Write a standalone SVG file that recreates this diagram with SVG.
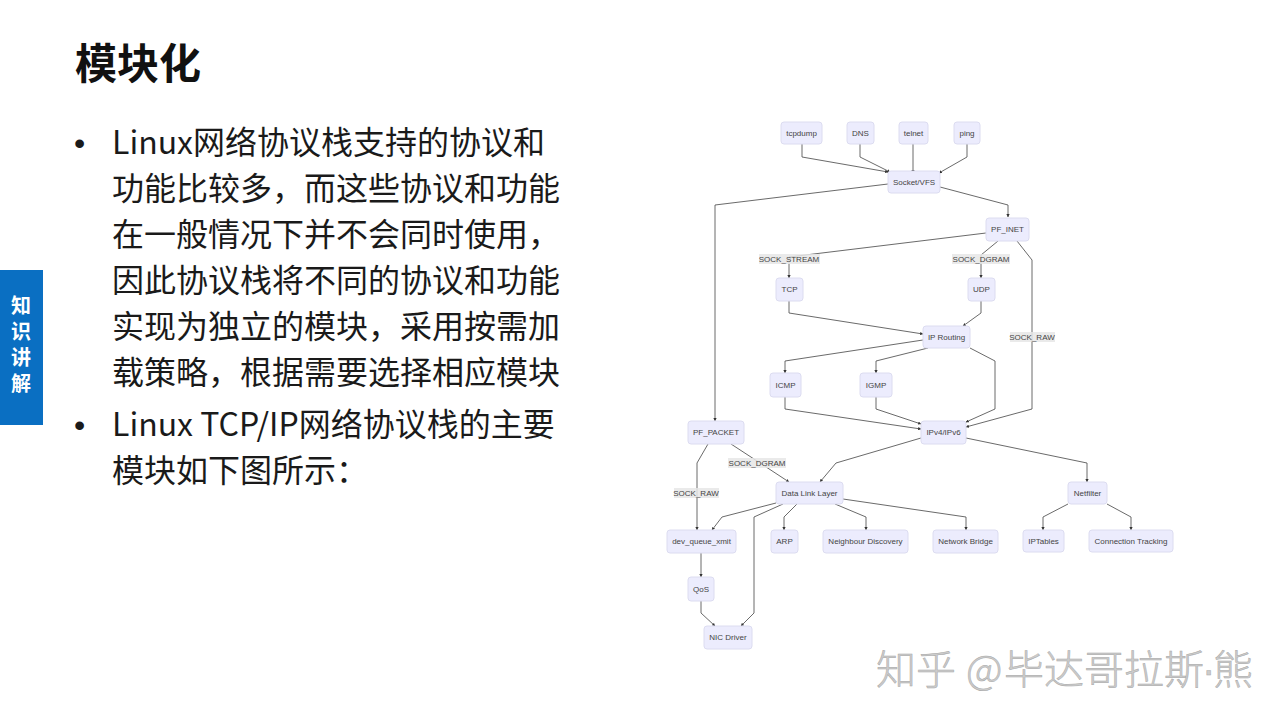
<svg xmlns="http://www.w3.org/2000/svg" width="1280" height="720" viewBox="0 0 1280 720">
<defs>
<marker id="ah" viewBox="0 0 10 10" refX="9" refY="5" markerWidth="4" markerHeight="4" orient="auto">
<path d="M0,0 L10,5 L0,10 z" fill="#333"/>
</marker>
<style>
.n rect{fill:#ececfd;stroke:#dcdcf0;stroke-width:1}
.n text{font-family:"Liberation Sans",Arial,sans-serif;font-size:8px;fill:#444;text-anchor:middle;dominant-baseline:central}
.e path{fill:none;stroke:#444;stroke-width:0.8;marker-end:url(#ah)}
.lb rect{fill:#e6e6e6;opacity:0.85}
.lb text{font-family:"Liberation Sans",Arial,sans-serif;font-size:8px;fill:#444;text-anchor:middle;dominant-baseline:central}
.body{font-family:"Noto Sans CJK SC","Microsoft YaHei",sans-serif;font-size:32px;fill:#1a1a1a}
.bul{font-family:"Liberation Sans",Arial,sans-serif;font-size:32px;fill:#1a1a1a}
.wm{font-family:"Noto Sans CJK SC",sans-serif;font-size:40px;font-weight:300;fill:#cccccc;stroke:#a8a8a8;stroke-width:0.5}
</style>
</defs>
<rect width="1280" height="720" fill="#ffffff"/>

<!-- left slide content -->
<text x="75" y="79" font-family="'Noto Sans CJK SC',sans-serif" font-size="42" font-weight="bold" fill="#111">模块化</text>
<rect x="0" y="270" width="43" height="155" fill="#0a6fc2"/>
<text x="21" y="295" writing-mode="vertical-rl" letter-spacing="6" font-family="'Noto Sans CJK SC',sans-serif" font-size="20" font-weight="bold" fill="#ffffff">知识讲解</text>

<text class="bul" x="74" y="154">•</text>
<text class="bul" x="74" y="436">•</text>
<g class="body">
<text x="112" y="154">Linux网络协议栈支持的协议和</text>
<text x="112" y="200">功能比较多，而这些协议和功能</text>
<text x="112" y="246">在一般情况下并不会同时使用，</text>
<text x="112" y="292">因此协议栈将不同的协议和功能</text>
<text x="112" y="338">实现为独立的模块，采用按需加</text>
<text x="112" y="384">载策略，根据需要选择相应模块</text>
<text x="112" y="436">Linux TCP/IP网络协议栈的主要</text>
<text x="112" y="482">模块如下图所示：</text>
</g>

<!-- connectors -->
<g id="connectors" class="e">
<path d="M802,144 L802,157 L888,172"/>
<path d="M860,144 L860,157 L890,172"/>
<path d="M913,144 L913,173"/>
<path d="M967,144 L967,157 L939,173"/>
<path d="M888,184 L715,205 L715,421"/>
<path d="M940,187 L1008,205 L1008,217"/>
<path d="M986,233 L789,257 L789,278"/>
<path d="M998,241 L981,255 L981,278"/>
<path d="M1017,241 L1032,260 L1032,409 L966,427"/>
<path d="M789,301 L789,313 L923,334"/>
<path d="M981,301 L981,313 L963,326"/>
<path d="M923,340 L785,361 L785,373"/>
<path d="M928,348 L876,361 L876,373"/>
<path d="M970,348 L995,361 L995,409 L966,422"/>
<path d="M785,397 L785,409 L921,429"/>
<path d="M876,397 L876,409 L921,424"/>
<path d="M731,444 L757,461 L789,482"/>
<path d="M708,444 L697,463 L697,530"/>
<path d="M921,438 L836,463 L820,482"/>
<path d="M966,438 L1087,463 L1087,482"/>
<path d="M776,503 L722,517 L712,530"/>
<path d="M783,504 L754,517 L754,613 L741,626"/>
<path d="M797,504 L784,517 L784,530"/>
<path d="M835,504 L866,517 L866,530"/>
<path d="M843,499 L966,517 L966,530"/>
<path d="M701,553 L701,577"/>
<path d="M701,601 L701,613 L715,626"/>
<path d="M1068,504 L1043,517 L1043,530"/>
<path d="M1107,504 L1131,517 L1131,530"/>
</g>

<!-- edge labels -->
<g id="edge-labels" class="lb">
<rect x="759" y="254" width="61" height="10"/><text x="789" y="259">SOCK_STREAM</text>
<rect x="952" y="254" width="58" height="10"/><text x="981" y="259">SOCK_DGRAM</text>
<rect x="1010" y="332" width="45" height="10"/><text x="1032" y="337">SOCK_RAW</text>
<rect x="728" y="458" width="58" height="10"/><text x="757" y="463">SOCK_DGRAM</text>
<rect x="674" y="488" width="45" height="10"/><text x="696" y="493">SOCK_RAW</text>
</g>

<!-- nodes -->
<g id="tcpdump" class="n"><rect x="781" y="122" width="41" height="22" rx="3"/><text x="801.5" y="133">tcpdump</text></g>
<g id="dns" class="n"><rect x="847" y="122" width="27" height="22" rx="3"/><text x="860.5" y="133">DNS</text></g>
<g id="telnet" class="n"><rect x="899" y="122" width="29" height="22" rx="3"/><text x="913.5" y="133">telnet</text></g>
<g id="ping" class="n"><rect x="954" y="122" width="26" height="22" rx="3"/><text x="967" y="133">ping</text></g>
<g id="socket" class="n"><rect x="888" y="171" width="52" height="22" rx="3"/><text x="914" y="182">Socket/VFS</text></g>
<g id="pf_inet" class="n"><rect x="986" y="218" width="43" height="23" rx="3"/><text x="1007.5" y="229.5">PF_INET</text></g>
<g id="tcp" class="n"><rect x="776" y="278" width="27" height="23" rx="3"/><text x="789.5" y="289.5">TCP</text></g>
<g id="udp" class="n"><rect x="968" y="278" width="27" height="23" rx="3"/><text x="981.5" y="289.5">UDP</text></g>
<g id="iprouting" class="n"><rect x="923" y="326" width="47" height="22" rx="3"/><text x="946.5" y="337">IP Routing</text></g>
<g id="icmp" class="n"><rect x="770" y="373" width="31" height="24" rx="3"/><text x="785.5" y="385">ICMP</text></g>
<g id="igmp" class="n"><rect x="860" y="373" width="32" height="24" rx="3"/><text x="876" y="385">IGMP</text></g>
<g id="pf_packet" class="n"><rect x="688" y="421" width="56" height="23" rx="3"/><text x="716" y="432.5">PF_PACKET</text></g>
<g id="ipv4v6" class="n"><rect x="921" y="421" width="45" height="23" rx="3"/><text x="943.5" y="432.5">IPv4/IPv6</text></g>
<g id="datalink" class="n"><rect x="776" y="482" width="67" height="22" rx="3"/><text x="809.5" y="493">Data Link Layer</text></g>
<g id="netfilter" class="n"><rect x="1068" y="482" width="39" height="22" rx="3"/><text x="1087.5" y="493">Netfilter</text></g>
<g id="devqueue" class="n"><rect x="667" y="530" width="69" height="23" rx="3"/><text x="701.5" y="541.5">dev_queue_xmit</text></g>
<g id="arp" class="n"><rect x="771" y="530" width="27" height="23" rx="3"/><text x="784.5" y="541.5">ARP</text></g>
<g id="neighbour" class="n"><rect x="823" y="530" width="85" height="23" rx="3"/><text x="865.5" y="541.5">Neighbour Discovery</text></g>
<g id="bridge" class="n"><rect x="933" y="530" width="65" height="23" rx="3"/><text x="965.5" y="541.5">Network Bridge</text></g>
<g id="iptables" class="n"><rect x="1023" y="530" width="41" height="22" rx="3"/><text x="1043.5" y="541">IPTables</text></g>
<g id="conntrack" class="n"><rect x="1089" y="530" width="84" height="22" rx="3"/><text x="1131" y="541">Connection Tracking</text></g>
<g id="qos" class="n"><rect x="688" y="577" width="26" height="24" rx="3"/><text x="701" y="589">QoS</text></g>
<g id="nicdriver" class="n"><rect x="704" y="626" width="48" height="23" rx="3"/><text x="728" y="637.5">NIC Driver</text></g>

<!-- watermark -->
<text class="wm" y="684"><tspan x="876">知乎</tspan><tspan x="966">@</tspan><tspan x="1004">毕达哥拉斯</tspan><tspan x="1202" font-family="'Liberation Sans',sans-serif">·</tspan><tspan x="1213">熊</tspan></text>
</svg>
